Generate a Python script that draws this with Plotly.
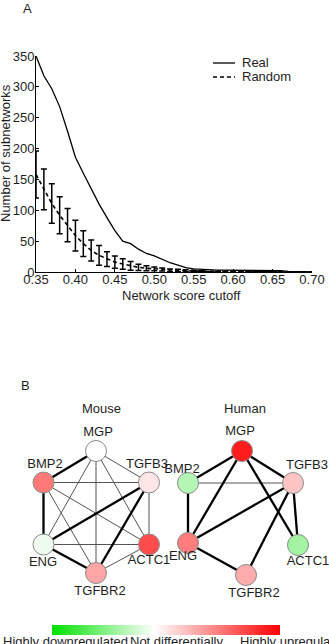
import plotly.graph_objects as go

# ---------------- data: panel A ----------------
cutoff = [0.35, 0.36, 0.37, 0.38, 0.39, 0.40, 0.41, 0.42, 0.43, 0.44, 0.45, 0.46,
          0.47, 0.48, 0.49, 0.50, 0.51, 0.52, 0.53, 0.54, 0.55, 0.56, 0.57, 0.58,
          0.59, 0.60, 0.61, 0.62, 0.63, 0.64, 0.65, 0.66, 0.67, 0.68, 0.69, 0.70]
real = [350, 318, 297, 268, 228, 186, 160, 135, 110, 88, 67, 50,
        46, 37, 30, 26, 20, 15, 11, 7, 5, 4, 4, 3,
        3, 3, 3, 3, 3, 2, 2, 2, 1, 1, 0, 0]
random_mean = [158, 134, 111, 92, 76, 59, 46, 35, 27, 21, 16, 13,
               10, 7.5, 6, 5, 4, 3, 2.5, 2, 1.5, 1.2, 1, 1,
               1, 1, 0.8, 0.8, 0.7, 0.6, 0.5, 0.4, 0.3, 0.2, 0.1, 0]
random_err = [38, 33, 32, 30, 27, 25, 21, 17, 16, 12, 10, 8.5,
              7, 5, 4, 3, 2.5, 2, 1.8, 1.5, 1.2, 1, 0, 0,
              0, 0, 0, 0, 0, 0, 0, 0, 0, 0, 0, 0]
x_ticks = [0.35, 0.40, 0.45, 0.50, 0.55, 0.60, 0.65, 0.70]
x_ticklabels = ["0.35", "0.40", "0.45", "0.50", "0.55", "0.60", "0.65", "0.70"]
y_ticks = [0, 50, 100, 150, 200, 250, 300, 350]
series_names = ["Real", "Random"]

# ---------------- data: panel B ----------------
genes = ["MGP", "BMP2", "TGFB3", "ENG", "ACTC1", "TGFBR2"]
mouse_expr = [0.0, 0.58, 0.11, -0.06, 0.77, 0.39]
human_expr = [0.97, -0.26, 0.25, 0.56, -0.33, 0.36]
mouse_edges = [("MGP", "BMP2", 1), ("MGP", "TGFB3", 0), ("MGP", "ENG", 0), ("MGP", "ACTC1", 0),
               ("MGP", "TGFBR2", 0), ("BMP2", "TGFB3", 0), ("BMP2", "ENG", 1), ("BMP2", "ACTC1", 0),
               ("BMP2", "TGFBR2", 0), ("TGFB3", "ENG", 1), ("TGFB3", "ACTC1", 0), ("TGFB3", "TGFBR2", 1),
               ("ENG", "ACTC1", 0), ("ENG", "TGFBR2", 1), ("ACTC1", "TGFBR2", 0)]
human_edges = [("MGP", "BMP2", 1), ("MGP", "TGFB3", 1), ("MGP", "ENG", 1), ("MGP", "ACTC1", 1),
               ("BMP2", "TGFB3", 0), ("BMP2", "ENG", 1), ("TGFB3", "ENG", 1), ("TGFB3", "ACTC1", 1),
               ("TGFB3", "TGFBR2", 1), ("ENG", "TGFBR2", 1)]
scale_labels = ["Highly downregulated", "Not differentially", "Highly upregulated"]

# ---------------- layout geometry (pixel space of the figure) ----------------
W, H = 329, 644
FONT = "Arial, Liberation Sans, sans-serif"
TXT = "#1e1e1e"

mouse_pos = {"MGP": (96, 451), "BMP2": (43.5, 482.5), "TGFB3": (149, 482.5),
             "ENG": (43.5, 544.5), "ACTC1": (149, 544.5), "TGFBR2": (96, 573)}
mouse_lab = {"MGP": (98, 433), "BMP2": (45, 465), "TGFB3": (147, 465),
             "ENG": (43, 563), "ACTC1": (149, 561), "TGFBR2": (100, 592)}
human_pos = {"MGP": (242, 451), "BMP2": (188, 483), "TGFB3": (293, 483),
             "ENG": (188, 543), "ACTC1": (298, 545), "TGFBR2": (246, 575)}
human_lab = {"MGP": (240, 432), "BMP2": (182, 470), "TGFB3": (307, 466),
             "ENG": (183, 557), "ACTC1": (308, 562), "TGFBR2": (254, 594)}
scale_label_x = [3, 130, 240]
scale_label_y = 643


def px(x):
    return x / W


def py(y):
    return 1 - y / H


fig = go.Figure()

# Panel A traces
fig.add_trace(go.Scatter(x=cutoff, y=real, mode="lines", name=series_names[0], showlegend=False,
                         line=dict(color="black", width=1.3), xaxis="x", yaxis="y"))
fig.add_trace(go.Scatter(x=cutoff, y=random_mean, mode="lines", name=series_names[1], showlegend=False,
                         line=dict(color="black", width=1.6, dash="4px,3px"),
                         error_y=dict(type="data", array=random_err, visible=True,
                                      color="black", thickness=1.5, width=3),
                         xaxis="x", yaxis="y"))

# Panel B traces
cscale = [[0, "rgb(0,225,0)"], [0.45, "rgb(255,255,255)"], [1, "rgb(255,0,0)"]]


def add_network(pos, lab, expr, edges, show_scale):
    for strong, width, color in [(0, 1.0, "#555555"), (1, 2.3, "black")]:
        ex, ey = [], []
        for a, b, s in edges:
            if s == strong:
                ex += [pos[a][0], pos[b][0], None]
                ey += [pos[a][1], pos[b][1], None]
        fig.add_trace(go.Scatter(x=ex, y=ey, mode="lines", showlegend=False,
                                 line=dict(color=color, width=width),
                                 xaxis="x2", yaxis="y2", hoverinfo="skip"))
    fig.add_trace(go.Scatter(
        x=[pos[g][0] for g in genes], y=[pos[g][1] for g in genes],
        mode="markers", showlegend=False, xaxis="x2", yaxis="y2",
        text=genes,
        marker=dict(size=21, color=expr, colorscale=cscale, cmin=-0.9, cmax=1.1,
                    line=dict(color="#8a8a8a", width=1),
                    showscale=show_scale,
                    colorbar=dict(orientation="h", x=px(166), xanchor="center",
                                  y=py(629.5), yanchor="middle",
                                  len=228, lenmode="pixels", thickness=10,
                                  outlinewidth=0, showticklabels=False, ticks="",
                                  xpad=0, ypad=0)),
    ))
    fig.add_trace(go.Scatter(
        x=[lab[g][0] for g in genes], y=[lab[g][1] for g in genes],
        mode="text", text=genes, showlegend=False, xaxis="x2", yaxis="y2",
        textfont=dict(family=FONT, size=13, color=TXT), hoverinfo="skip"))


add_network(mouse_pos, mouse_lab, mouse_expr, mouse_edges, True)
add_network(human_pos, human_lab, human_expr, human_edges, False)

# colour-scale captions (partly cut off by the bottom edge, as in the reference)
fig.add_trace(go.Scatter(
    x=scale_label_x, y=[scale_label_y] * 3, mode="text", text=scale_labels,
    textposition="middle right", showlegend=False, xaxis="x2", yaxis="y2",
    cliponaxis=True, textfont=dict(family=FONT, size=13, color=TXT), hoverinfo="skip"))

annotations = [
    dict(text="A", x=px(27), y=py(8)),
    dict(text="B", x=px(25), y=py(385)),
    dict(text="Number of subnetworks", x=px(6), y=py(153), textangle=-90),
    dict(text="Network score cutoff", x=px(181), y=py(295)),
    dict(text="Mouse", x=px(101), y=py(409)),
    dict(text="Human", x=px(245), y=py(409)),
    dict(text=series_names[0], x=px(240), xanchor="left", y=py(63)),
    dict(text=series_names[1], x=px(240), xanchor="left", y=py(77)),
]
for a in annotations:
    a.setdefault("xanchor", "center")
    a["yanchor"] = "middle"
    a["showarrow"] = False
    a["xref"] = "paper"
    a["yref"] = "paper"
    a["font"] = dict(family=FONT, size=13, color=TXT)

# legend keys
shapes = [
    dict(type="line", xref="paper", yref="paper", x0=px(213), x1=px(235), y0=py(63), y1=py(63),
         line=dict(color="black", width=1.3)),
    dict(type="line", xref="paper", yref="paper", x0=px(213), x1=px(235), y0=py(77), y1=py(77),
         line=dict(color="black", width=1.6, dash="4px,3px")),
]

fig.update_layout(
    width=W, height=H,
    margin=dict(l=0, r=0, t=0, b=0, autoexpand=False),
    paper_bgcolor="white", plot_bgcolor="rgba(0,0,0,0)",
    font=dict(family=FONT, size=13, color=TXT),
    showlegend=False,
    xaxis=dict(domain=[px(36), px(312)], range=[0.35, 0.70], tickvals=x_ticks,
               ticktext=x_ticklabels, showline=True, linecolor="black", linewidth=1,
               ticks="inside", ticklen=3, tickcolor="black", showgrid=False,
               zeroline=False, anchor="y", tickfont=dict(size=13), automargin=False,
               ticklabelstandoff=-5),
    yaxis=dict(domain=[py(272), py(56)], range=[0, 350], tickvals=y_ticks,
               showline=True, linecolor="black", linewidth=1,
               ticks="inside", ticklen=3, tickcolor="black", showgrid=False,
               zeroline=False, anchor="x", tickfont=dict(size=13), automargin=False,
               ticklabelstandoff=-2),
    xaxis2=dict(domain=[0, 1], range=[0, W], visible=False, anchor="y2"),
    yaxis2=dict(domain=[py(H), py(400)], range=[H, 400], visible=False, anchor="x2"),
    annotations=annotations,
    shapes=shapes,
)

fig.write_html("out.html")
